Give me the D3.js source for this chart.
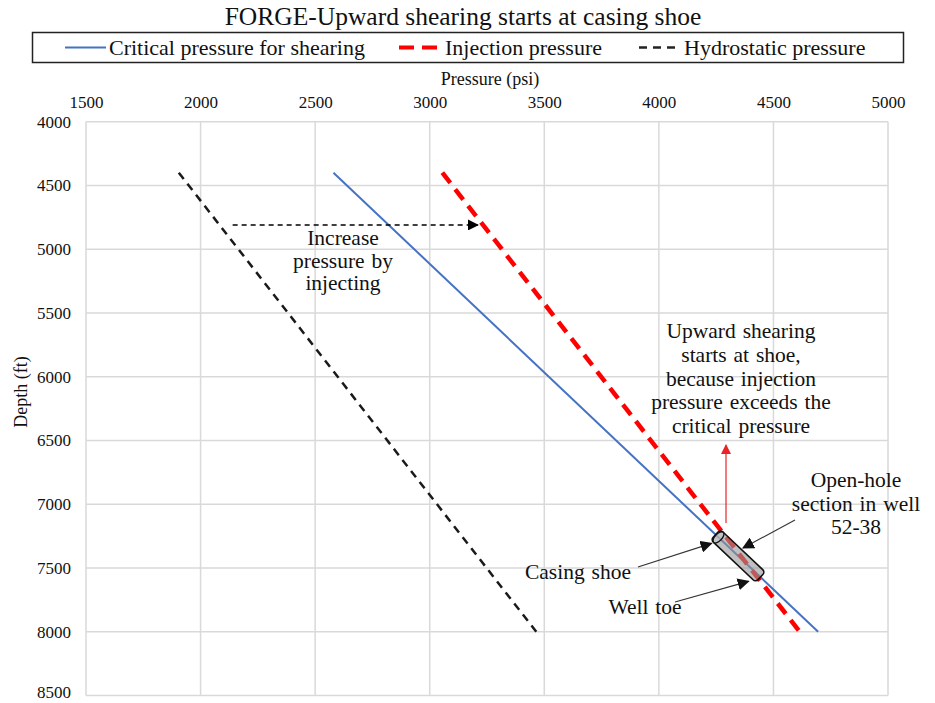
<!DOCTYPE html>
<html>
<head>
<meta charset="utf-8">
<script src="https://cdn.jsdelivr.net/npm/d3@7"></script>
<style>
  html, body { margin: 0; padding: 0; background: #fff; }
  svg { display: block; }
</style>
</head>
<body>
<svg id="chart" width="935" height="703"></svg>
<script>
// Depth range of the three pressure profiles (ft)
const depthEnds = [4400, 8000];
// Pressure at each end of the depth range (psi)
const criticalPsi = [2580, 4695];
const injectionPsi = [3055, 4615];
const hydrostaticPsi = [1905, 3465];

// Axis ticks
const pressureTicks = [1500, 2000, 2500, 3000, 3500, 4000, 4500, 5000];
const depthTicks = [4000, 4500, 5000, 5500, 6000, 6500, 7000, 7500, 8000, 8500];

// Open-hole section of well 52-38 (depth, ft): casing shoe and toe
const openHoleDepths = [7260, 7550];

// Pressure increase arrow: from/to pressure (psi) at a depth (ft)
const increasePsi = [2140, 3210];
const increaseDepth = 4810;

const SERIF = "'Liberation Serif', 'Times New Roman', 'DejaVu Serif', serif";

const svg = d3.select("#chart").style("font-family", SERIF);
const plot = { left: 86, right: 888, top: 121.7, bottom: 695.5 };

const x = d3.scaleLinear().domain([1500, 5000]).range([plot.left, plot.right]);
const y = d3.scaleLinear().domain([4000, 8500]).range([plot.top, plot.bottom]);

// Linear pressure profile lookup along depth
const profile = vals => d3.scaleLinear().domain(depthEnds).range(vals);
const critAt = profile(criticalPsi);

function addText(sel, size) {
  return sel.append("text")
    .attr("font-family", SERIF)
    .style("font-family", SERIF)
    .style("font-size", size + "px")
    .attr("fill", "#111");
}

// Arrowhead markers
const defs = svg.append("defs");
function marker(id, color, size) {
  defs.append("marker")
    .attr("id", id)
    .attr("viewBox", "0 0 10 10")
    .attr("refX", 9).attr("refY", 5)
    .attr("markerUnits", "userSpaceOnUse")
    .attr("markerWidth", size).attr("markerHeight", size)
    .attr("orient", "auto")
    .append("path")
    .attr("d", "M0,0 L10,5 L0,10 z")
    .attr("fill", color);
}
marker("arrBlack", "#000", 11);
marker("arrGray", "#111", 12);
marker("arrRed", "#e8242a", 10);

// Title
addText(svg, 25.5)
  .attr("x", 463).attr("y", 25)
  .attr("text-anchor", "middle")
  .text("FORGE-Upward shearing starts at casing shoe");

// Legend
const legend = svg.append("g");
legend.append("rect")
  .attr("x", 32.5).attr("y", 32.5).attr("width", 871).attr("height", 30)
  .attr("fill", "#fff").attr("stroke", "#222").attr("stroke-width", 1.5);

const legendItems = [
  { label: "Critical pressure for shearing", x0: 65, x1: 106, color: "#4472c4", width: 2, dash: null },
  { label: "Injection pressure", x0: 399, x1: 442, color: "#ff0000", width: 4, dash: "15,8" },
  { label: "Hydrostatic pressure", x0: 639, x1: 681, color: "#222", width: 2.5, dash: "8,6" }
];
legendItems.forEach(d => {
  legend.append("line")
    .attr("x1", d.x0).attr("x2", d.x1).attr("y1", 47.5).attr("y2", 47.5)
    .attr("stroke", d.color).attr("stroke-width", d.width)
    .attr("stroke-dasharray", d.dash);
  addText(legend, 22)
    .attr("x", d.x1 + 3).attr("y", 54.5)
    .text(d.label);
});

// Gridlines
const grid = svg.append("g");
grid.selectAll("line.v").data(pressureTicks).join("line")
  .attr("x1", d => x(d)).attr("x2", d => x(d))
  .attr("y1", plot.top).attr("y2", plot.bottom)
  .attr("stroke", "#d9d9d9").attr("stroke-width", 1.5);
grid.selectAll("line.h").data(depthTicks).join("line")
  .attr("y1", d => y(d)).attr("y2", d => y(d))
  .attr("x1", plot.left).attr("x2", plot.right)
  .attr("stroke", "#d9d9d9").attr("stroke-width", 1.5);

// Axes (top pressure axis, left depth axis)
const xAxis = svg.append("g")
  .attr("transform", `translate(0,${plot.top - 14})`)
  .call(d3.axisTop(x).tickValues(pressureTicks).tickSize(0).tickPadding(0).tickFormat(d3.format("d")));
xAxis.attr("font-family", SERIF).attr("font-size", 17);
xAxis.select(".domain").remove();
xAxis.selectAll("text").style("font-family", SERIF).style("font-size", "17px").attr("fill", "#111");

const yAxis = svg.append("g")
  .attr("transform", `translate(${plot.left - 15},0)`)
  .call(d3.axisLeft(y).tickValues(depthTicks).tickSize(0).tickPadding(0).tickFormat(d3.format("d")));
yAxis.attr("font-family", SERIF).attr("font-size", 17);
yAxis.select(".domain").remove();
yAxis.selectAll("text").style("font-family", SERIF).style("font-size", "17px").attr("fill", "#111")
  // keep the lowest label inside the page
  .attr("dy", d => d === depthTicks[depthTicks.length - 1] ? "0.12em" : "0.32em");

// Axis titles
addText(svg, 18)
  .attr("x", 490).attr("y", 85)
  .attr("text-anchor", "middle")
  .text("Pressure (psi)");
addText(svg, 18)
  .attr("transform", "translate(27,392) rotate(-90)")
  .attr("text-anchor", "middle")
  .text("Depth (ft)");

// Pressure profiles
const lineGen = d3.line().x(d => x(d[0])).y(d => y(d[1]));
const series = [
  { vals: hydrostaticPsi, color: "#1a1a1a", width: 2.5, dash: "8,6" },
  { vals: criticalPsi, color: "#4472c4", width: 2, dash: null },
  { vals: injectionPsi, color: "#ff0000", width: 4.5, dash: "13,8" }
];
series.forEach(s => {
  svg.append("path")
    .datum(depthEnds.map((dep, i) => [s.vals[i], dep]))
    .attr("d", lineGen)
    .attr("fill", "none")
    .attr("stroke", s.color)
    .attr("stroke-width", s.width)
    .attr("stroke-dasharray", s.dash);
});

// Open-hole section drawn as a cylinder along the critical pressure line
const p1 = [x(critAt(openHoleDepths[0])), y(openHoleDepths[0])];
const p2 = [x(critAt(openHoleDepths[1])), y(openHoleDepths[1])];
const len = Math.hypot(p2[0] - p1[0], p2[1] - p1[1]);
const ang = Math.atan2(p2[1] - p1[1], p2[0] - p1[0]) * 180 / Math.PI;
const cyl = svg.append("g").attr("transform", `translate(${p1[0]},${p1[1]}) rotate(${ang})`);
cyl.append("rect")
  .attr("x", -4).attr("y", -7).attr("width", len + 8).attr("height", 14)
  .attr("rx", 3.5)
  .attr("fill", "rgba(150,150,150,0.6)")
  .attr("stroke", "#111").attr("stroke-width", 1.6);
cyl.append("ellipse")
  .attr("cx", 0).attr("cy", 0).attr("rx", 3.5).attr("ry", 7)
  .attr("fill", "rgba(200,200,200,0.5)")
  .attr("stroke", "#111").attr("stroke-width", 1.3);

// Pressure increase arrow
svg.append("line")
  .attr("x1", x(increasePsi[0])).attr("x2", x(increasePsi[1]))
  .attr("y1", y(increaseDepth)).attr("y2", y(increaseDepth))
  .attr("stroke", "#000").attr("stroke-width", 1.5)
  .attr("stroke-dasharray", "5,4")
  .attr("marker-end", "url(#arrBlack)");

function textBlock(lines, cx, y0, dy, size) {
  const t = addText(svg, size).attr("text-anchor", "middle").style("word-spacing", "1.5px");
  lines.forEach((l, i) => {
    t.append("tspan").attr("x", cx).attr("y", y0 + i * dy).text(l);
  });
}

textBlock(["Increase", "pressure by", "injecting"], 343, 245, 22.5, 21.5);

// Shearing onset annotation
svg.append("line")
  .attr("x1", 726).attr("x2", 726).attr("y1", 523).attr("y2", 445)
  .attr("stroke", "#e8242a").attr("stroke-width", 1.2)
  .attr("marker-end", "url(#arrRed)");
textBlock(["Upward shearing", "starts at shoe,", "because injection", "pressure exceeds the", "critical pressure"],
  741, 338, 23.8, 21.5);

// Open-hole label
svg.append("line")
  .attr("x1", 795).attr("y1", 520).attr("x2", p1[0] + (p2[0] - p1[0]) * 0.45 + 7).attr("y2", p1[1] + (p2[1] - p1[1]) * 0.45 - 6)
  .attr("stroke", "#333").attr("stroke-width", 1.1)
  .attr("marker-end", "url(#arrGray)");
textBlock(["Open-hole", "section in well", "52-38"], 856, 487, 23.5, 21.5);

// Casing shoe label
svg.append("line")
  .attr("x1", 638).attr("y1", 567).attr("x2", p1[0] - 7).attr("y2", p1[1] + 6)
  .attr("stroke", "#333").attr("stroke-width", 1.1)
  .attr("marker-end", "url(#arrGray)");
textBlock(["Casing shoe"], 578, 579, 0, 21.5);

// Well toe label
svg.append("line")
  .attr("x1", 675).attr("y1", 602).attr("x2", p2[0] - 9).attr("y2", p2[1] + 7)
  .attr("stroke", "#333").attr("stroke-width", 1.1)
  .attr("marker-end", "url(#arrGray)");
textBlock(["Well toe"], 645, 614, 0, 21.5);
</script>
</body>
</html>
